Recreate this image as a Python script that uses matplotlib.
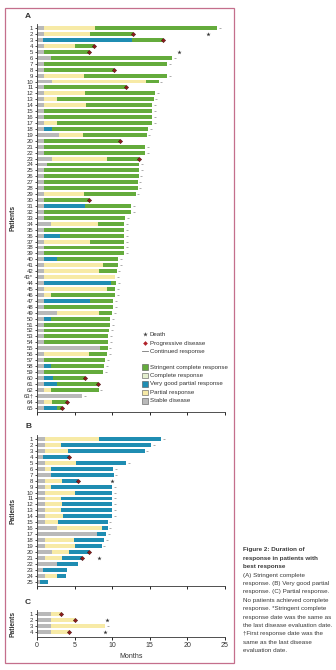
import matplotlib
matplotlib.use("Agg")
import matplotlib.pyplot as plt
from matplotlib.patches import Rectangle

plt.rcParams['font.family'] = ['Liberation Sans', 'DejaVu Sans']

# ---- colours -------------------------------------------------------------
C_SD = '#b9b9b9'    # stable disease
C_PR = '#f7eaa6'    # partial response
C_VGPR = '#1f8db2'  # very good partial response
C_CR = '#e4efcf'    # complete response
C_SCR = '#64ab3c'   # stringent complete response
C_PD = '#8e1b1b'

# ---- panel A: stringent complete response --------------------------------
a_labels = [str(i) for i in range(1, 66)]
a_labels[42] = '43*'
a_labels[62] = '63\u2020'
# cumulative end (months) of each phase: SD -> PR -> VGPR -> sCR
a_sd = [0.9, 0.9, 0.8, 0.9, 0.9, 1.8, 0.9, 0.9, 0.9, 2.0,
        0.9, 0.9, 0.9, 0.9, 0.9, 0.9, 0.9, 0.9, 2.9, 0.9,
        0.9, 0.9, 2.0, 1.3, 0.9, 0.9, 0.9, 0.9, 0.9, 0.9,
        0.9, 0.9, 0.9, 1.9, 0.9, 0.9, 0.9, 0.9, 0.9, 0.9,
        0.9, 0.9, 0.9, 0.9, 0.9, 0.9, 0.9, 0.9, 2.6, 0.9,
        0.9, 0.9, 0.9, 0.9, 8.4, 0.9, 0.9, 0.9, 0.9, 0.9,
        0.9, 0.9, 6.0, 0.9, 0.9]
a_pr = [7.7, 7.1, 0.8, 5.1, 0.9, 1.8, 0.9, 0.9, 6.2, 14.5,
        0.9, 6.4, 2.7, 6.5, 0.9, 0.9, 2.7, 0.9, 6.1, 0.9,
        0.9, 0.9, 9.3, 1.3, 0.9, 0.9, 0.9, 0.9, 6.2, 0.9,
        0.9, 0.9, 0.9, 8.1, 0.9, 0.9, 7.0, 0.9, 0.9, 0.9,
        8.8, 8.2, 10.4, 0.9, 9.3, 1.9, 0.9, 0.9, 8.2, 0.9,
        0.9, 0.9, 0.9, 0.9, 8.4, 6.9, 0.9, 0.9, 0.9, 0.9,
        0.9, 1.9, 6.0, 2.0, 0.9]
a_vgpr = [7.7, 7.1, 12.6, 5.1, 0.9, 1.8, 0.9, 0.9, 6.2, 14.5,
          0.9, 6.4, 2.7, 6.5, 0.9, 0.9, 2.7, 2.0, 6.1, 0.9,
          0.9, 0.9, 9.3, 1.3, 0.9, 0.9, 0.9, 0.9, 6.2, 0.9,
          6.4, 0.9, 0.9, 8.1, 0.9, 3.1, 7.0, 0.9, 0.9, 2.7,
          8.8, 8.2, 10.4, 9.8, 9.3, 1.9, 7.1, 0.9, 8.2, 1.9,
          0.9, 0.9, 0.9, 0.9, 8.4, 6.9, 0.9, 1.9, 0.9, 2.1,
          2.6, 1.9, 6.0, 2.0, 2.7]
a_scr = [24.0, 12.8, 16.7, 7.6, 6.9, 18.0, 17.3, 10.3, 17.3, 16.2,
         11.9, 15.7, 15.5, 15.3, 15.3, 15.3, 15.3, 14.8, 14.6, 11.1,
         14.4, 14.4, 13.6, 13.6, 13.6, 13.5, 13.4, 13.4, 13.1, 6.9,
         12.5, 12.5, 11.7, 11.6, 11.6, 11.6, 11.6, 11.6, 11.6, 10.8,
         10.8, 10.6, 10.4, 10.5, 10.4, 10.4, 10.1, 10.1, 10.0, 9.7,
         9.7, 9.6, 9.5, 9.5, 9.4, 9.3, 9.1, 8.9, 8.8, 6.4,
         8.1, 8.2, 6.0, 4.0, 3.3]
a_outcome = ['C', 'PD', 'PD', 'PD', 'PD', 'C', 'C', 'PD', 'C', 'C',
             'PD', 'C', 'C', 'C', 'C', 'C', 'C', 'C', 'C', 'PD',
             'C', 'C', 'PD', 'C', 'C', 'C', 'C', 'C', 'C', 'PD',
             'C', 'C', 'C', 'C', 'C', 'C', 'C', 'C', 'C', 'C',
             'C', 'C', 'C', 'C', 'C', 'C', 'C', 'C', 'C', 'C',
             'C', 'C', 'C', 'C', 'C', 'C', 'C', 'C', 'C', 'PD',
             'PD', 'C', 'C', 'PD', 'PD']
a_death = {2: 22.7, 5: 18.9}

# ---- panel B: very good partial response --------------------------------
b_labels = [str(i) for i in range(1, 26)]
b_sd = [1.0, 1.0, 1.0, 0.8, 1.0, 1.0, 1.9, 1.0, 1.0, 1.0,
        1.0, 1.0, 1.0, 1.0, 1.0, 2.6, 8.0, 1.0, 1.0, 2.0,
        1.0, 2.7, 0.8, 1.0, 0.4]
b_pr = [8.3, 3.2, 4.1, 0.8, 5.2, 1.9, 1.9, 3.3, 1.9, 5.1,
        3.2, 3.3, 3.2, 3.5, 2.8, 8.6, 8.0, 4.9, 5.1, 4.3,
        3.3, 2.7, 0.8, 2.6, 0.4]
b_vgpr = [16.5, 15.2, 14.3, 4.2, 11.9, 10.1, 10.2, 5.4, 10.0, 10.0,
          10.0, 10.0, 10.0, 10.0, 9.4, 9.4, 9.2, 8.9, 8.6, 6.9,
          6.0, 5.4, 4.0, 3.8, 1.5]
b_outcome = ['C', 'C', 'C', 'PD', 'C', 'C', 'C', 'PD', 'C', 'C',
             'C', 'C', 'C', 'C', 'C', 'C', 'C', 'C', 'C', 'PD',
             'PD', '', '', '', '']
b_death = {8: 10.0, 21: 8.3}

# ---- panel C: partial response -------------------------------------------
c_labels = ['1', '2', '3', '4']
c_sd = [1.8, 1.8, 1.8, 1.8]
c_pr = [3.2, 5.0, 9.1, 4.2]
c_outcome = ['PD', 'PD', 'C', 'PD']
c_death = {2: 9.3, 4: 9.0}

month_ticks = [0, 5, 10, 15, 20, 25]

W, H = 336, 670
fig = plt.figure(figsize=(W / 100, H / 100), dpi=100)


def px_axes(left, top, right, bottom):
    return fig.add_axes([left / W, 1 - bottom / H, (right - left) / W, (bottom - top) / H])


BAR_H = 0.66
FS_TICK = 4.3


def swimmer(ax, labels, phases, outcome, death):
    n = len(labels)
    ys = list(range(1, n + 1))
    for i, y in enumerate(ys):
        start = 0.0
        for ends, col in phases:
            end = ends[i]
            if end > start:
                ax.barh(y, end - start, left=start, height=BAR_H, color=col,
                        edgecolor='none', zorder=2)
                start = end
        if outcome[i] == 'PD':
            ax.plot(start, y, marker='D', ms=2.2, color=C_PD, mec='#3a0a0a',
                    mew=0.3, zorder=4, ls='none')
        elif outcome[i] == 'C':
            ax.plot(start + 0.35, y, marker='_', ms=1.6, color='#8a8a8a',
                    mew=0.5, zorder=3, ls='none')
        if (i + 1) in death:
            ax.plot(death[i + 1], y, marker='*', ms=3.2, color='#333333',
                    mew=0, zorder=4, ls='none')
    ax.set_xlim(0, 25)
    ax.set_ylim(n + 0.75, 0.3)
    ax.set_yticks(ys)
    ax.set_yticklabels(labels, fontsize=FS_TICK, color='#333333')
    ax.set_xticks(month_ticks)
    ax.tick_params(axis='y', length=1.8, width=0.5, pad=0.8)
    ax.tick_params(axis='x', length=2.2, width=0.6, pad=1.2)
    for s in ('top', 'right'):
        ax.spines[s].set_visible(False)
    for s in ('left', 'bottom'):
        ax.spines[s].set_linewidth(0.6)
        ax.spines[s].set_color('#333333')
    ax.set_ylabel('Patients', fontsize=4.8, fontweight='bold', color='#333333', labelpad=2)
    ax.yaxis.set_label_coords(-0.11, 0.5)


axA = px_axes(37, 24, 225, 412)
swimmer(axA, a_labels, [(a_sd, C_SD), (a_pr, C_PR), (a_vgpr, C_VGPR), (a_scr, C_SCR)],
        a_outcome, a_death)
axA.set_xticklabels([])

axB = px_axes(37, 435, 225, 586)
swimmer(axB, b_labels, [(b_sd, C_SD), (b_pr, C_PR), (b_vgpr, C_VGPR)], b_outcome, b_death)
axB.set_xticklabels([])

axC = px_axes(37, 610, 225, 637)
swimmer(axC, c_labels, [(c_sd, C_SD), (c_pr, C_PR)], c_outcome, c_death)
axC.set_xticklabels([str(t) for t in month_ticks], fontsize=5, color='#333333')
axC.set_xlabel('Months', fontsize=5, color='#333333', labelpad=3)
axC.yaxis.set_label_coords(-0.11, 0.5)

# ---- overlay in pixel units: frame, panel letters, legend, caption -------
ov = fig.add_axes([0, 0, 1, 1], zorder=-1)
ov.set_xlim(0, W)
ov.set_ylim(H, 0)
ov.axis('off')
ov.add_patch(Rectangle((5, 8), 229, 655, fill=False, ec='#c46f8c', lw=0.9))

for letter, yy in (('A', 17), ('B', 427), ('C', 603)):
    fig.text(25 / W, 1 - yy / H, letter, fontsize=6, fontweight='bold',
             color='#333333', va='center', ha='left')

leg = fig.add_axes([0, 0, 1, 1], zorder=5)
leg.set_xlim(0, W)
leg.set_ylim(H, 0)
leg.axis('off')
FS_LEG = 4.4
leg.plot(145, 334, marker='*', ms=3.5, color='#444444', mew=0)
leg.text(150, 334, 'Death', fontsize=FS_LEG, va='center', color='#333333')
leg.plot(145, 343, marker='D', ms=2.4, color='#b0222a', mew=0)
leg.text(150, 343, 'Progressive disease', fontsize=FS_LEG, va='center', color='#333333')
leg.plot([141.5, 147.5], [351, 351], color='#777777', lw=0.6)
leg.text(150, 351, 'Continued response', fontsize=FS_LEG, va='center', color='#333333')
boxes = [('Stringent complete response', C_SCR, 367),
         ('Complete response', C_CR, 375.5),
         ('Very good partial response', C_VGPR, 384),
         ('Partial response', C_PR, 392.5),
         ('Stable disease', C_SD, 401)]
for name, col, yy in boxes:
    leg.add_patch(Rectangle((141.5, yy - 2.7), 6.5, 5.4, fc=col, ec='#555555', lw=0.4))
    leg.text(150.5, yy, name, fontsize=FS_LEG, va='center', color='#333333')

caption = [
    ('Figure 2: Duration of', True),
    ('response in patients with', True),
    ('best response', True),
    ('(A) Stringent complete', False),
    ('response. (B) Very good partial', False),
    ('response. (C) Partial response.', False),
    ('No patients achieved complete', False),
    ('response. *Stringent complete', False),
    ('response date was the same as', False),
    ('the last disease evaluation date.', False),
    ('\u2020First response date was the', False),
    ('same as the last disease', False),
    ('evaluation date.', False),
]
for k, (line, bold) in enumerate(caption):
    fig.text(243 / W, 1 - (550 + 8.4 * k) / H, line, fontsize=4.5,
             color='#3a3a3a', va='center', ha='left',
             fontweight='bold' if bold else 'normal')

fig.savefig('out.png', dpi=100, facecolor='white')
